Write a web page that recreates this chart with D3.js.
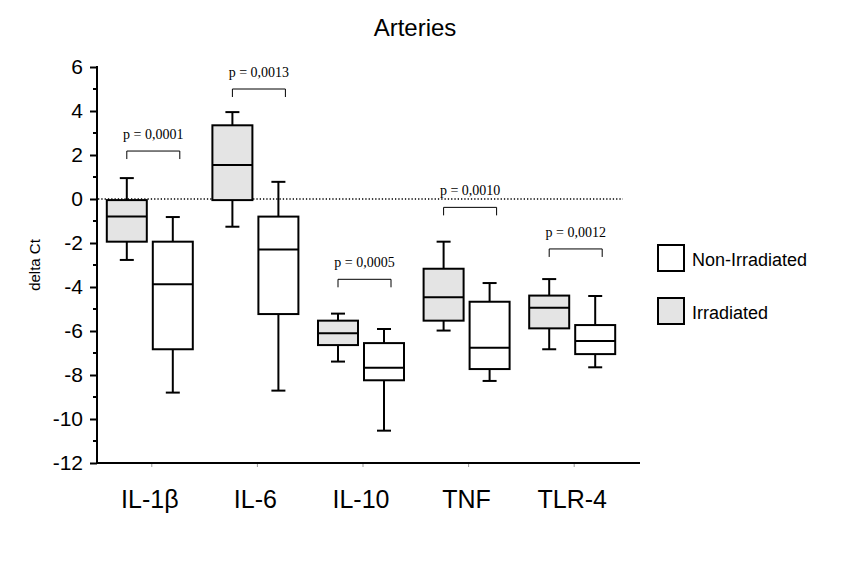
<!DOCTYPE html>
<html><head><meta charset="utf-8">
<script src="https://cdn.jsdelivr.net/npm/d3@7"></script>
<style>body{margin:0;background:#fff}svg{display:block}</style>
</head><body>
<script>
const categories = ["IL-1β","IL-6","IL-10","TNF","TLR-4"];
// [whiskerLow, q1, median, q3, whiskerHigh]
const irradiated = [
  [-2.77,-1.94,-0.8,-0.05,0.95],
  [-1.26,-0.05,1.55,3.35,3.95],
  [-7.39,-6.64,-6.1,-5.53,-5.21],
  [-5.98,-5.53,-4.47,-3.17,-1.94],
  [-6.83,-5.88,-4.94,-4.39,-3.64]
];
const nonIrradiated = [
  [-8.8,-6.83,-3.88,-1.94,-0.82],
  [-8.71,-5.23,-2.3,-0.8,0.78],
  [-10.53,-8.24,-7.67,-6.55,-5.91],
  [-8.27,-7.73,-6.76,-4.67,-3.82],
  [-7.65,-7.05,-6.45,-5.73,-4.41]
];
const pLabels = ["p = 0,0001","p = 0,0013","p = 0,0005","p = 0,0010","p = 0,0012"];
const pBracketY = [2.18,5.0,-3.65,-0.38,-2.27];
const yTicks = [6,4,2,0,-2,-4,-6,-8,-10,-12];
const legendLabels = ["Non-Irradiated","Irradiated"];

const W=857,H=577;
const svg=d3.select("body").append("svg").attr("width",W).attr("height",H);
const y=d3.scaleLinear().domain([-12,6]).range([463,67]);
const x=d3.scaleBand().domain(categories).range([97,625]);
const off=23, bw=40, cap=13;
const font="Arial, 'Liberation Sans', sans-serif";

svg.append("text").attr("x",415).attr("y",36).attr("text-anchor","middle")
  .style("font-family",font).style("font-size","24px").text("Arteries");

// y axis
const yAxis=svg.append("g").attr("transform","translate(97,0)");
yAxis.call(d3.axisLeft(y).tickValues(yTicks).tickSize(7).tickFormat(d3.format("d")));
yAxis.select(".domain").attr("stroke","#000").attr("stroke-width",2).attr("d","M-1,"+y(6)+"H0V"+y(-12));
yAxis.selectAll(".tick line").attr("stroke-width",2);
yAxis.selectAll(".tick text").style("font-family",font).style("font-size","21px").attr("x",-14);
const minor=d3.range(-11,6,2);
yAxis.selectAll(".minor").data(minor).enter().append("line").attr("class","minor")
  .attr("x1",-4).attr("x2",0).attr("y1",d=>y(d)).attr("y2",d=>y(d)).attr("stroke","#000").attr("stroke-width",2);
yAxis.selectAll(".tick text").text(d=>String(d));

svg.append("text").attr("transform","translate(40,"+y(-3)+") rotate(-90)").attr("text-anchor","middle")
  .style("font-family",font).style("font-size","15px").text("delta Ct");

// x axis
svg.append("line").attr("x1",96).attr("x2",640).attr("y1",y(-12)).attr("y2",y(-12)).attr("stroke","#000").attr("stroke-width",2);
const xg=svg.append("g").attr("transform","translate(0,"+y(-12)+")");
xg.selectAll("line").data(categories).enter().append("line")
  .attr("x1",d=>x(d)+x.bandwidth()/2+2).attr("x2",d=>x(d)+x.bandwidth()/2+2).attr("y1",1).attr("y2",4).attr("stroke","#999");
xg.selectAll("text").data(categories).enter().append("text")
  .attr("x",d=>x(d)+x.bandwidth()/2).attr("y",45).attr("text-anchor","middle")
  .style("font-family",font).style("font-size","25px").text(d=>d);

// zero dotted line
svg.append("line").attr("x1",98).attr("x2",623).attr("y1",y(0)).attr("y2",y(0))
  .attr("stroke","#000").attr("stroke-width",1.4).attr("stroke-dasharray","1.3,2");

function drawBox(cx,v,fill){
  const g=svg.append("g");
  g.append("line").attr("x1",cx).attr("x2",cx).attr("y1",y(v[0])).attr("y2",y(v[1])).attr("stroke","#000").attr("stroke-width",2);
  g.append("line").attr("x1",cx).attr("x2",cx).attr("y1",y(v[3])).attr("y2",y(v[4])).attr("stroke","#000").attr("stroke-width",2);
  g.append("line").attr("x1",cx-cap/2-0.5).attr("x2",cx+cap/2+0.5).attr("y1",y(v[0])).attr("y2",y(v[0])).attr("stroke","#000").attr("stroke-width",2);
  g.append("line").attr("x1",cx-cap/2-0.5).attr("x2",cx+cap/2+0.5).attr("y1",y(v[4])).attr("y2",y(v[4])).attr("stroke","#000").attr("stroke-width",2);
  g.append("rect").attr("x",cx-bw/2).attr("width",bw).attr("y",y(v[3])).attr("height",y(v[1])-y(v[3]))
    .attr("fill",fill).attr("stroke","#000").attr("stroke-width",2);
  g.append("line").attr("x1",cx-bw/2).attr("x2",cx+bw/2).attr("y1",y(v[2])).attr("y2",y(v[2])).attr("stroke","#000").attr("stroke-width",2);
}
categories.forEach((c,i)=>{
  const cx=x(c)+x.bandwidth()/2;
  drawBox(cx-off,irradiated[i],"#e4e4e4");
  drawBox(cx+off,nonIrradiated[i],"#ffffff");
  const by=y(pBracketY[i]);
  const x1=cx-off, x2=cx+off+7;
  svg.append("path").attr("d",`M${x1},${by+8}V${by}H${x2}V${by+8}`).attr("fill","none").attr("stroke","#000").attr("stroke-width",1);
  svg.append("text").attr("x",(x1+x2)/2).attr("y",by-12).attr("text-anchor","middle")
    .style("font-family","'Liberation Serif','Times New Roman',serif").style("font-size","14px").text(pLabels[i]);
});

// legend
const lg=svg.append("g");
legendLabels.forEach((l,i)=>{
  const ly=245+i*53;
  lg.append("rect").attr("x",658).attr("y",ly).attr("width",26).attr("height",26)
    .attr("fill",i===0?"#fff":"#e4e4e4").attr("stroke","#000").attr("stroke-width",2);
  lg.append("text").attr("x",692).attr("y",ly+21).style("font-family",font).style("font-size","18px").text(l);
});
</script>
</body></html>
